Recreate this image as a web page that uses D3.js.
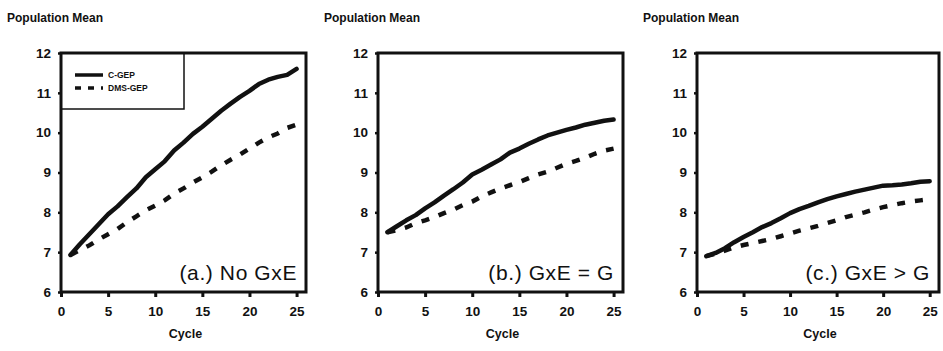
<!DOCTYPE html>
<html>
<head>
<meta charset="utf-8">
<script src="https://cdn.jsdelivr.net/npm/d3@7"></script>
<style>
  html, body { margin: 0; padding: 0; background: #fff; }
  svg { display: block; font-family: "Liberation Sans", Arial, sans-serif; }
  .tick text { font-weight: bold; font-size: 13.5px; fill: #111; }
</style>
</head>
<body>
<svg id="chart" width="943" height="351"></svg>
<script>
/* ---- data ---- */
const cycles = d3.range(1, 26);
const xTicks = [0, 5, 10, 15, 20, 25];
const yTicks = [6, 7, 8, 9, 10, 11, 12];
const seriesNames = ["C-GEP", "DMS-GEP"];
const panelLabels = ["(a.) No GxE", "(b.) GxE = G", "(c.) GxE > G"];

const cgepA = [6.93, 7.2, 7.45, 7.7, 7.95, 8.15, 8.38, 8.6, 8.88, 9.08, 9.28, 9.55, 9.75, 9.97, 10.15,
               10.35, 10.55, 10.73, 10.9, 11.05, 11.22, 11.33, 11.4, 11.45, 11.6];
const dmsA  = [6.93, 7.05, 7.17, 7.32, 7.45, 7.58, 7.75, 7.9, 8.05, 8.17, 8.3, 8.47, 8.6, 8.75, 8.88,
               9.02, 9.18, 9.32, 9.45, 9.6, 9.75, 9.88, 9.98, 10.12, 10.2];
const cgepB = [7.5, 7.65, 7.8, 7.93, 8.1, 8.25, 8.42, 8.58, 8.75, 8.95, 9.07, 9.2, 9.33, 9.5, 9.6,
               9.72, 9.83, 9.93, 10.0, 10.07, 10.13, 10.2, 10.25, 10.3, 10.33];
const dmsB  = [7.5, 7.55, 7.62, 7.73, 7.8, 7.88, 7.98, 8.07, 8.18, 8.27, 8.4, 8.5, 8.6, 8.68, 8.76,
               8.86, 8.95, 9.02, 9.12, 9.22, 9.29, 9.37, 9.47, 9.55, 9.6];
const cgepC = [6.9, 6.98, 7.1, 7.25, 7.38, 7.5, 7.63, 7.73, 7.85, 7.98, 8.08, 8.16, 8.25, 8.33, 8.4,
               8.46, 8.52, 8.57, 8.62, 8.67, 8.68, 8.7, 8.73, 8.77, 8.78];
const dmsC  = [6.9, 6.96, 7.04, 7.12, 7.18, 7.23, 7.28, 7.33, 7.4, 7.47, 7.54, 7.6, 7.66, 7.73, 7.8,
               7.88, 7.94, 8.0, 8.07, 8.13, 8.18, 8.23, 8.27, 8.3, 8.33];

const panels = [
  { label: panelLabels[0], cgep: cgepA, dms: dmsA, left: 61,  width: 245, legend: true },
  { label: panelLabels[1], cgep: cgepB, dms: dmsB, left: 378, width: 245 },
  { label: panelLabels[2], cgep: cgepC, dms: dmsC, left: 697, width: 242 }
];

/* ---- layout ---- */
const TOP = 53, BOTTOM = 292;
const svg = d3.select("#chart");
const y = d3.scaleLinear().domain([6, 12]).range([BOTTOM, TOP]);

panels.forEach(p => {
  const x = d3.scaleLinear().domain([0, 26]).range([p.left, p.left + p.width]);
  const g = svg.append("g");

  // y-axis title
  g.append("text").attr("x", p.left - 54).attr("y", 22)
    .attr("font-size", 12).attr("font-weight", "bold").attr("fill", "#111")
    .text("Population Mean");

  // x-axis title
  g.append("text").attr("x", p.left + p.width / 2 + 2).attr("y", 338)
    .attr("text-anchor", "middle").attr("font-size", 12.5).attr("font-weight", "bold")
    .attr("fill", "#111").text("Cycle");

  // axes
  const ya = g.append("g").attr("transform", `translate(${p.left},0)`)
    .call(d3.axisLeft(y).tickValues(yTicks).tickFormat(d3.format("d")).tickSize(3).tickPadding(7));
  ya.select(".domain").remove();
  ya.selectAll(".tick line").attr("stroke", "#111").attr("stroke-width", 2.5);

  const xa = g.append("g").attr("transform", `translate(0,${BOTTOM})`)
    .call(d3.axisBottom(x).tickValues(xTicks).tickFormat(d3.format("d")).tickSize(5).tickPadding(9));
  xa.select(".domain").remove();
  xa.selectAll(".tick line").attr("stroke", "#111").attr("stroke-width", 3);

  // lines
  const line = d3.line().x((d, i) => x(cycles[i])).y(d => y(d));
  g.append("path").datum(p.dms).attr("d", line)
    .attr("fill", "none").attr("stroke", "#111").attr("stroke-width", 4.5)
    .attr("stroke-dasharray", "8,10");
  g.append("path").datum(p.cgep).attr("d", line)
    .attr("fill", "none").attr("stroke", "#111").attr("stroke-width", 4.5)
    .attr("stroke-linejoin", "round").attr("stroke-linecap", "round");

  // legend (panel a only)
  if (p.legend) {
    const lg = g.append("g");
    lg.append("rect").attr("x", p.left).attr("y", TOP).attr("width", 123).attr("height", 56)
      .attr("fill", "#fff").attr("stroke", "#111").attr("stroke-width", 1.5);
    const rows = [{ name: seriesNames[0], dash: null, yy: 75 }, { name: seriesNames[1], dash: "6,7", yy: 88 }];
    rows.forEach(r => {
      lg.append("line").attr("x1", p.left + 14).attr("x2", p.left + 42)
        .attr("y1", r.yy).attr("y2", r.yy).attr("stroke", "#111").attr("stroke-width", 3.5)
        .attr("stroke-dasharray", r.dash);
      lg.append("text").attr("x", p.left + 47).attr("y", r.yy + 3)
        .attr("font-size", 8.5).attr("font-weight", "bold").attr("fill", "#111").text(r.name);
    });
  }

  // frame
  g.append("rect").attr("x", p.left).attr("y", TOP)
    .attr("width", p.width).attr("height", BOTTOM - TOP)
    .attr("fill", "none").attr("stroke", "#111").attr("stroke-width", 3);

  // panel label
  g.append("text").attr("x", p.left + p.width - 9).attr("y", 280)
    .attr("text-anchor", "end").attr("font-size", 21).attr("letter-spacing", 0.6)
    .attr("fill", "#111").text(p.label);
});
</script>
</body>
</html>
